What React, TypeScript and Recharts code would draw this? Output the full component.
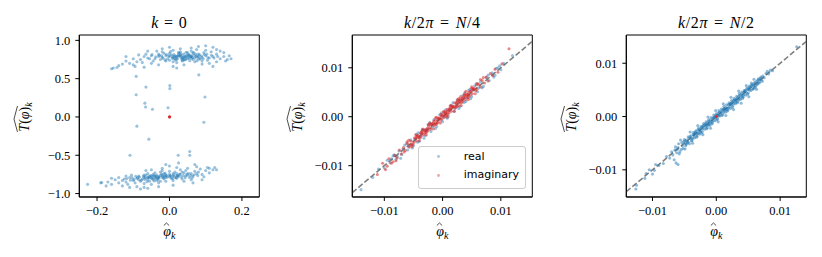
import React from "react";
import { ScatterChart, Scatter, XAxis, YAxis, ReferenceLine, ReferenceArea, Legend } from "recharts";

type Pair = [number, number];

const BLUE = "#1f77b4";
const RED = "#d62728";
const SERIF = '"Liberation Serif", "DejaVu Serif", serif';
const SANS = '"DejaVu Sans", sans-serif';

// ---- k = 0 : real part (two lobes) + a few stragglers, imaginary at origin
const k0Upper: Pair[] = [
  [0.02, 0.79], [0.03, 0.81], [0.01, 0.77], [0.04, 0.78], [-0.01, 0.8], [0.05, 0.76], [0.0, 0.83], [0.06, 0.8], [0.02, 0.75], [-0.02, 0.78],
  [0.07, 0.77], [0.03, 0.85], [0.01, 0.72], [0.08, 0.82], [-0.03, 0.82], [0.04, 0.74], [0.05, 0.84], [-0.04, 0.76], [0.09, 0.78], [0.0, 0.79],
  [0.025, 0.81], [0.035, 0.77], [0.015, 0.8], [0.045, 0.79], [-0.005, 0.76], [0.055, 0.81], [0.065, 0.75], [0.075, 0.8], [-0.015, 0.83], [0.085, 0.76],
  [0.1, 0.8], [0.11, 0.77], [0.12, 0.79], [0.095, 0.84], [0.105, 0.74], [-0.05, 0.8], [-0.06, 0.77], [-0.045, 0.73], [-0.035, 0.86], [-0.025, 0.75],
  [0.01, 0.87], [0.02, 0.71], [0.06, 0.86], [0.07, 0.72], [0.13, 0.82], [0.14, 0.76], [0.115, 0.85], [-0.07, 0.79], [-0.08, 0.75], [-0.065, 0.82],
  [0.03, 0.79], [0.04, 0.82], [0.05, 0.78], [0.0, 0.74], [0.015, 0.76], [0.025, 0.84], [0.045, 0.75], [0.055, 0.77], [0.065, 0.83], [0.035, 0.73],
  [-0.02, 0.85], [-0.01, 0.73], [0.08, 0.79], [0.09, 0.73], [0.1, 0.87], [0.075, 0.88], [-0.03, 0.79], [0.005, 0.81], [0.035, 0.8], [0.06, 0.79],
  [-0.09, 0.72], [-0.1, 0.76], [-0.11, 0.7], [-0.12, 0.73], [-0.13, 0.69], [-0.14, 0.67], [-0.155, 0.64], [-0.16, 0.63], [-0.145, 0.645], [-0.1, 0.68],
  [-0.085, 0.81], [-0.075, 0.71], [-0.095, 0.66], [0.15, 0.79], [0.16, 0.75], [0.17, 0.76], [0.165, 0.8], [0.155, 0.73], [0.14, 0.86], [0.13, 0.72],
  [0.12, 0.91], [0.08, 0.92], [0.06, 0.9], [0.03, 0.89], [0.0, 0.91], [-0.02, 0.89], [0.11, 0.7], [0.09, 0.69], [0.04, 0.68], [0.01, 0.66],
  [-0.03, 0.68], [-0.05, 0.7], [-0.06, 0.86], [0.15, 0.84], [0.12, 0.66], [-0.12, 0.79], [0.02, 0.64], [-0.07, 0.65], [0.1, 0.93], [0.13, 0.88],
  [0.018, 0.785], [0.028, 0.795], [0.038, 0.775], [0.048, 0.805], [0.008, 0.765], [-0.002, 0.795], [0.058, 0.785], [0.068, 0.805], [0.078, 0.775], [0.088, 0.795],
  [0.012, 0.815], [0.022, 0.765], [0.032, 0.825], [0.042, 0.755], [0.052, 0.815], [0.062, 0.765], [0.072, 0.825], [0.082, 0.755], [-0.008, 0.815], [-0.018, 0.765],
  [0.016, 0.745], [0.026, 0.835], [0.036, 0.745], [0.046, 0.845], [0.056, 0.735], [0.066, 0.845], [0.076, 0.735], [0.096, 0.815], [0.106, 0.775], [0.116, 0.805],
  [-0.028, 0.805], [-0.038, 0.785], [-0.048, 0.815], [-0.012, 0.745], [0.003, 0.855], [0.013, 0.785], [0.043, 0.79], [0.053, 0.8], [0.063, 0.78], [0.033, 0.76],
  [0.023, 0.8], [0.008, 0.79], [0.073, 0.79], [0.083, 0.81], [0.093, 0.76], [0.103, 0.82], [0.123, 0.77], [0.133, 0.79], [-0.055, 0.76], [-0.022, 0.8],
];

const k0Lower: Pair[] = [
  [-0.03, -0.78], [-0.02, -0.76], [-0.04, -0.8], [-0.01, -0.79], [-0.05, -0.77], [0.0, -0.75], [-0.06, -0.82], [0.01, -0.77], [-0.07, -0.79], [0.02, -0.74],
  [-0.035, -0.83], [-0.025, -0.72], [-0.045, -0.75], [-0.015, -0.81], [-0.055, -0.84], [0.005, -0.8], [-0.065, -0.76], [0.015, -0.72], [-0.075, -0.81], [0.025, -0.78],
  [-0.08, -0.84], [0.03, -0.75], [-0.09, -0.8], [0.04, -0.73], [-0.1, -0.83], [0.05, -0.76], [-0.11, -0.79], [0.06, -0.74], [-0.12, -0.85], [0.07, -0.71],
  [-0.03, -0.86], [-0.02, -0.7], [-0.04, -0.73], [-0.01, -0.84], [-0.05, -0.88], [0.0, -0.71], [-0.06, -0.74], [0.01, -0.83], [-0.07, -0.87], [0.02, -0.8],
  [-0.085, -0.77], [0.035, -0.81], [-0.095, -0.86], [0.045, -0.7], [-0.105, -0.76], [0.055, -0.79], [-0.115, -0.88], [0.065, -0.77], [-0.125, -0.81], [0.075, -0.74],
  [-0.03, -0.8], [-0.02, -0.79], [-0.04, -0.77], [-0.01, -0.76], [-0.05, -0.8], [0.0, -0.78], [-0.06, -0.79], [0.01, -0.74], [-0.07, -0.76], [0.02, -0.77],
  [-0.035, -0.76], [-0.015, -0.74], [-0.045, -0.82], [-0.025, -0.84], [0.035, -0.72], [-0.055, -0.79], [0.045, -0.77], [-0.085, -0.82], [0.03, -0.69], [-0.065, -0.7],
  [-0.13, -0.83], [-0.14, -0.86], [-0.15, -0.82], [-0.16, -0.88], [-0.17, -0.85], [-0.13, -0.9], [-0.12, -0.77], [-0.14, -0.79], [-0.11, -0.92], [-0.09, -0.91],
  [0.08, -0.72], [0.09, -0.75], [0.1, -0.7], [0.085, -0.68], [0.095, -0.78], [0.11, -0.73], [0.12, -0.69], [0.13, -0.69], [0.105, -0.66], [0.075, -0.65],
  [0.05, -0.67], [0.02, -0.66], [0.0, -0.64], [-0.02, -0.67], [-0.05, -0.69], [0.04, -0.84], [0.06, -0.82], [0.01, -0.89], [-0.03, -0.91], [-0.08, -0.94],
  [-0.07, -0.92], [-0.06, -0.93], [-0.19, -0.86], [-0.187, -0.855], [-0.226, -0.88], [-0.175, -0.9], [-0.16, -0.8], [0.065, -0.86], [0.09, -0.82], [0.07, -0.62],
  [0.025, -0.6], [-0.01, -0.62], [0.11, -0.67], [0.125, -0.66],
  [-0.028, -0.785], [-0.018, -0.775], [-0.038, -0.795], [-0.008, -0.765], [-0.048, -0.805], [0.002, -0.765], [-0.058, -0.795], [0.012, -0.755], [-0.068, -0.815], [0.022, -0.765],
  [-0.032, -0.815], [-0.022, -0.745], [-0.042, -0.835], [-0.012, -0.735], [-0.052, -0.765], [0.008, -0.805], [-0.062, -0.845], [0.018, -0.795], [-0.072, -0.775], [0.028, -0.745],
  [-0.078, -0.825], [0.038, -0.765], [-0.088, -0.795], [0.048, -0.745], [-0.098, -0.815], [0.058, -0.765], [-0.108, -0.825], [0.068, -0.755], [-0.118, -0.805], [0.078, -0.765],
  [-0.026, -0.765], [-0.016, -0.795], [-0.036, -0.775], [-0.006, -0.785], [-0.046, -0.785], [0.004, -0.775], [-0.056, -0.775], [0.014, -0.785], [-0.066, -0.795], [0.024, -0.765],
  [-0.033, -0.795], [-0.043, -0.765], [-0.013, -0.775], [0.033, -0.785], [-0.083, -0.785], [0.043, -0.795], [-0.093, -0.775], [0.053, -0.735], [-0.103, -0.795], [0.063, -0.795],
];

const k0Stray: Pair[] = [
  [0.001, 0.41], [0.001, 0.37], [-0.065, 0.39], [-0.092, 0.29], [-0.068, 0.18], [-0.066, 0.13], [-0.047, 0.1], [-0.004, 0.12],
  [0.098, 0.26], [-0.09, -0.12], [0.095, -0.07], [-0.057, -0.29], [-0.109, -0.5], [0.056, -0.45], [0.056, -0.5], [0.024, -0.5],
  [-0.092, 0.53], [0.081, 0.55],
];

const k0Imag: Pair[] = [[0, 0], [0.0005, 0.002]];

// ---- k/2pi = N/4
const n4Real: Pair[] = [
  [-0.014, -0.0149], [-0.012, -0.0124], [-0.011, -0.0107], [-0.01, -0.0105], [-0.0095, -0.0089], [-0.009, -0.0094], [-0.0085, -0.008], [-0.008, -0.0087], [-0.0075, -0.007], [-0.007, -0.0077],
  [-0.0065, -0.0058], [-0.006, -0.0068], [-0.0055, -0.0047], [-0.005, -0.0059], [-0.0045, -0.0036], [-0.004, -0.005], [-0.0035, -0.0026], [-0.003, -0.0039], [-0.0025, -0.0016], [-0.002, -0.003],
  [-0.0015, -0.0006], [-0.001, -0.002], [-0.0005, 0.0004], [0.0, -0.001], [0.0005, 0.0014], [0.001, 0.0001], [0.0015, 0.0024], [0.002, 0.0011], [0.0025, 0.0034], [0.003, 0.0021],
  [0.0035, 0.0044], [0.004, 0.0031], [0.0045, 0.0054], [0.005, 0.0041], [0.0055, 0.0063], [0.006, 0.0051], [0.0065, 0.0071], [0.007, 0.0062], [0.0075, 0.008], [0.008, 0.0074],
  [0.0085, 0.009], [0.009, 0.0085], [0.0095, 0.01], [0.01, 0.0096], [0.0105, 0.0109], [0.012, 0.0125],
  [-0.0072, -0.0085], [-0.0083, -0.0078], [-0.0062, -0.0055], [-0.0052, -0.0064], [-0.0042, -0.0033], [-0.0032, -0.0044], [-0.0022, -0.0012], [-0.0012, -0.0024], [-0.0002, 0.0008], [0.0008, -0.0003],
  [0.0018, 0.0029], [0.0028, 0.0017], [0.0038, 0.0049], [0.0048, 0.0037], [0.0058, 0.0068], [0.0068, 0.0059], [0.0078, 0.0085], [0.0088, 0.0081], [0.0098, 0.0104], [0.0092, 0.0099],
  [-0.0048, -0.0046], [-0.0038, -0.0041], [-0.0028, -0.0026], [-0.0018, -0.0021], [-0.0008, -0.0006], [0.0002, -0.0001], [0.0012, 0.0014], [0.0022, 0.0019], [0.0032, 0.0034], [0.0042, 0.0039],
  [0.0052, 0.0054], [0.0062, 0.0059], [-0.0058, -0.0061], [-0.0068, -0.0066], [-0.0078, -0.0081], [-0.0088, -0.0086], [-0.0043, -0.0052], [-0.0033, -0.0027], [0.0037, 0.0029], [0.0047, 0.0056],
];

const n4Imag: Pair[] = [
  [-0.0112, -0.0118], [-0.0103, -0.0095], [-0.0098, -0.0108], [-0.0092, -0.0086], [-0.0088, -0.0095], [-0.0082, -0.0079], [-0.0078, -0.0084], [-0.0074, -0.0068], [-0.0071, -0.0076], [-0.0067, -0.0063],
  [-0.0064, -0.0069], [-0.006, -0.0055], [-0.0057, -0.0062], [-0.0054, -0.005], [-0.0051, -0.0056], [-0.0048, -0.0043], [-0.0045, -0.0049], [-0.0042, -0.0038], [-0.0039, -0.0044], [-0.0036, -0.0031],
  [-0.0033, -0.0037], [-0.003, -0.0026], [-0.0027, -0.0031], [-0.0024, -0.0019], [-0.0021, -0.0025], [-0.0018, -0.0014], [-0.0015, -0.0019], [-0.0012, -0.0007], [-0.0009, -0.0013], [-0.0006, -0.0002],
  [-0.0003, -0.0007], [0.0, 0.0004], [0.0003, -0.0001], [0.0006, 0.001], [0.0009, 0.0005], [0.0012, 0.0017], [0.0015, 0.0011], [0.0018, 0.0022], [0.0021, 0.0017], [0.0024, 0.0029],
  [0.0027, 0.0023], [0.003, 0.0035], [0.0033, 0.0029], [0.0036, 0.004], [0.0039, 0.0035], [0.0042, 0.0046], [0.0045, 0.0041], [0.0048, 0.0052], [0.0051, 0.0047], [0.0054, 0.0058],
  [-0.0058, -0.0048], [-0.0052, -0.0061], [-0.0046, -0.0037], [-0.004, -0.0049], [-0.0034, -0.0025], [-0.0028, -0.0037], [-0.0022, -0.0013], [-0.0016, -0.0025], [-0.001, -0.0001], [-0.0004, -0.0013],
  [0.0002, 0.0011], [0.0008, -0.0001], [0.0014, 0.0023], [0.002, 0.0011], [0.0026, 0.0035], [0.0032, 0.0023], [0.0038, 0.0047], [0.0044, 0.0035], [0.005, 0.0058], [0.0056, 0.0047],
  [-0.0049, -0.0052], [-0.0043, -0.0041], [-0.0037, -0.004], [-0.0031, -0.0028], [-0.0025, -0.0028], [-0.0019, -0.0016], [-0.0013, -0.0016], [-0.0007, -0.0004], [-0.0001, -0.0004], [0.0005, 0.0008],
  [0.0011, 0.0008], [0.0017, 0.002], [0.0023, 0.002], [0.0029, 0.0032], [0.0035, 0.0032], [0.0041, 0.0044], [0.0047, 0.0044], [0.0053, 0.0056], [0.0059, 0.0056], [0.0062, 0.0066],
  [0.006, 0.0068], [0.0065, 0.0061], [0.0068, 0.0074], [0.0072, 0.0069], [0.0075, 0.0081], [0.0078, 0.0073], [0.0082, 0.0088], [0.0086, 0.0084], [0.009, 0.0097], [0.0095, 0.0091],
  [0.0102, 0.0108], [0.0114, 0.0139], [-0.0085, -0.0092], [-0.0095, -0.0101], [-0.008, -0.009], [-0.0066, -0.0072], [-0.0061, -0.0051], [-0.0055, -0.0058], [-0.0035, -0.0029], [-0.0015, -0.0009],
  [0.0005, 0.0002], [0.0025, 0.0031], [0.0045, 0.005], [0.0065, 0.0076], [0.007, 0.008], [0.0058, 0.0065],
  [-0.0046, -0.0044], [-0.0041, -0.0043], [-0.0036, -0.0034], [-0.0031, -0.0033], [-0.0026, -0.0023], [-0.0021, -0.0023], [-0.0016, -0.0013], [-0.0011, -0.0013], [-0.0006, -0.0004], [-0.0001, 0.0001],
  [0.0004, 0.0006], [0.0009, 0.0011], [0.0014, 0.0016], [0.0019, 0.0021], [0.0024, 0.0026], [0.0029, 0.0031], [0.0034, 0.0036], [0.0039, 0.0041], [0.0044, 0.0046], [0.0049, 0.0051],
  [-0.0038, -0.0033], [-0.0029, -0.0032], [-0.002, -0.0016], [-0.0011, -0.0015], [-0.0002, 0.0002], [0.0007, 0.0003], [0.0016, 0.002], [0.0025, 0.0021], [0.0034, 0.0038], [0.0043, 0.0039],
  [0.0052, 0.0056], [0.0057, 0.0053], [-0.0053, -0.0057], [-0.0044, -0.004], [-0.0027, -0.0027], [-0.0008, -0.001], [0.0011, 0.0014], [0.003, 0.0028], [0.0037, 0.0044], [0.0021, 0.0028],
  [0.0013, 0.0022], [0.0002, 0.0009], [-0.0012, -0.0002], [-0.0024, -0.0016], [0.004, 0.0052], [0.0031, 0.0041], [0.005, 0.0061], [-0.0003, 0.0005], [0.0008, 0.0015], [0.0028, 0.0037],
];

// ---- k/2pi = N/2
const n2Real: Pair[] = [
  [-0.006, -0.0058], [-0.0057, -0.0066], [-0.0054, -0.0049], [-0.0052, -0.006], [-0.005, -0.0043], [-0.0048, -0.0055], [-0.0046, -0.0047], [-0.0044, -0.0038], [-0.0042, -0.0051], [-0.004, -0.0036],
  [-0.0038, -0.0045], [-0.0036, -0.003], [-0.0034, -0.004], [-0.0032, -0.0027], [-0.003, -0.0037], [-0.0028, -0.0022], [-0.0026, -0.0033], [-0.0024, -0.0019], [-0.0022, -0.0028], [-0.002, -0.0013],
  [-0.0018, -0.0024], [-0.0016, -0.001], [-0.0014, -0.0021], [-0.0012, -0.0006], [-0.001, -0.0017], [-0.0008, -0.0002], [-0.0006, -0.0012], [-0.0004, 0.0003], [-0.0002, -0.0008], [0.0, 0.0005],
  [0.0002, -0.0004], [0.0004, 0.0011], [0.0006, 0.0001], [0.0008, 0.0014], [0.001, 0.0004], [0.0012, 0.0019], [0.0014, 0.0008], [0.0016, 0.0022], [0.0018, 0.0012], [0.002, 0.0026],
  [0.0022, 0.0015], [0.0024, 0.003], [0.0026, 0.002], [0.0028, 0.0034], [0.003, 0.0024], [0.0032, 0.0038], [0.0034, 0.0028], [0.0036, 0.0043], [0.0038, 0.0032], [0.004, 0.0046],
  [0.0042, 0.0036], [0.0044, 0.0049], [0.0046, 0.004], [0.0048, 0.0053], [0.005, 0.0044], [0.0052, 0.0057], [0.0054, 0.0049], [0.0056, 0.006], [0.0058, 0.0052], [0.006, 0.0064],
  [-0.0059, -0.0051], [-0.0055, -0.0062], [-0.0051, -0.0047], [-0.0047, -0.0052], [-0.0043, -0.0041], [-0.0039, -0.0046], [-0.0035, -0.0033], [-0.0031, -0.0039], [-0.0027, -0.0025], [-0.0023, -0.0031],
  [-0.0019, -0.0016], [-0.0015, -0.0023], [-0.0011, -0.0009], [-0.0007, -0.0014], [-0.0003, -0.0001], [0.0001, -0.0006], [0.0005, 0.0008], [0.0009, 0.0002], [0.0013, 0.0015], [0.0017, 0.001],
  [0.0021, 0.0023], [0.0025, 0.0017], [0.0029, 0.0031], [0.0033, 0.0026], [0.0037, 0.004], [0.0041, 0.0034], [0.0045, 0.0047], [0.0049, 0.0042], [0.0053, 0.0055], [0.0057, 0.0051],
  [-0.0056, -0.0044], [-0.0049, -0.0061], [-0.0041, -0.0029], [-0.0037, -0.005], [-0.0029, -0.0017], [-0.0021, -0.0034], [-0.0013, -0.0001], [-0.0009, -0.0022], [-0.0001, 0.0011], [0.0003, -0.001],
  [0.0011, 0.0024], [0.0015, 0.0002], [0.0023, 0.0036], [0.0027, 0.0013], [0.0035, 0.0048], [0.0039, 0.0025], [0.0047, 0.0058], [0.0051, 0.0037], [0.0059, 0.007], [0.0063, 0.0051],
  [-0.0033, -0.0029], [-0.0025, -0.0027], [-0.0017, -0.0014], [-0.0009, -0.0011], [-0.0001, 0.0002], [0.0007, 0.0005], [0.0015, 0.0017], [0.0023, 0.0021], [0.0031, 0.0033], [0.0039, 0.0037],
  [-0.0029, -0.0032], [-0.0021, -0.0018], [-0.0013, -0.0016], [-0.0005, -0.0003], [0.0003, 0.0001], [0.0011, 0.0013], [0.0019, 0.0016], [0.0027, 0.0029], [0.0035, 0.0032], [0.0043, 0.0045],
  [-0.0065, -0.0063], [-0.0068, -0.0072], [-0.007, -0.0066], [-0.0073, -0.0078], [-0.0062, -0.0068], [-0.0064, -0.0057], [-0.0058, -0.007], [-0.0063, -0.0087], [-0.006, -0.009], [-0.0066, -0.0081],
  [-0.0078, -0.0075], [-0.0083, -0.0088], [-0.009, -0.0092], [-0.0097, -0.0101], [-0.0105, -0.01], [-0.011, -0.0107], [-0.0112, -0.0116], [-0.0125, -0.0129], [-0.0095, -0.009], [-0.01, -0.0108],
  [0.0062, 0.0058], [0.0065, 0.0068], [0.0067, 0.0063], [0.0069, 0.0072], [0.0071, 0.0069], [0.0073, 0.0076], [0.007, 0.0074], [0.0066, 0.0071], [0.0075, 0.0073], [0.0078, 0.0081],
  [0.008, 0.0085], [0.0082, 0.008], [0.0085, 0.0087], [0.0088, 0.0086], [0.0064, 0.006], [0.0061, 0.0055], [0.0068, 0.0065], [0.0072, 0.0066], [0.0055, 0.0063], [0.0059, 0.0054],
  [0.0126, 0.0131], [-0.0126, -0.0136],
  [-0.0049, -0.0046], [-0.0045, -0.0049], [-0.0041, -0.0038], [-0.0037, -0.0041], [-0.0033, -0.0031], [-0.0029, -0.0026], [-0.0025, -0.0029], [-0.0021, -0.0023], [-0.0017, -0.0019], [-0.0013, -0.001],
  [-0.0009, -0.0006], [-0.0005, -0.0008], [-0.0001, -0.0003], [0.0003, 0.0006], [0.0007, 0.0009], [0.0011, 0.0008], [0.0015, 0.0013], [0.0019, 0.0022], [0.0023, 0.0025], [0.0027, 0.0024],
  [0.0031, 0.0029], [0.0035, 0.0038], [0.0039, 0.0042], [0.0043, 0.0041], [0.0047, 0.0045], [0.0051, 0.0054], [0.0055, 0.0058], [0.0059, 0.0057], [0.0063, 0.0066], [0.0067, 0.0069],
  [-0.0053, -0.0055], [-0.0047, -0.0044], [-0.0039, -0.0041], [-0.0031, -0.0034], [-0.0023, -0.002], [-0.0015, -0.0017], [-0.0007, -0.0009], [0.0001, 0.0003], [0.0009, 0.0011], [0.0017, 0.0014],
  [0.0025, 0.0027], [0.0033, 0.0035], [0.0041, 0.0038], [0.0049, 0.0051], [0.0057, 0.0059], [0.0065, 0.0062], [-0.0061, -0.0062], [-0.0035, -0.0036], [-0.0011, -0.0013], [0.0013, 0.0012],
  [-0.0044, -0.0048], [-0.0036, -0.0034], [-0.0028, -0.0031], [-0.002, -0.0018], [-0.0012, -0.0015], [-0.0004, -0.0002], [0.0004, 0.0002], [0.0012, 0.0015], [0.002, 0.0018], [0.0028, 0.0031],
  [0.0036, 0.0034], [0.0044, 0.0047], [0.0052, 0.005], [0.006, 0.0062], [0.003, 0.0027], [0.0022, 0.0024], [-0.0016, -0.0013], [-0.0026, -0.0024], [-0.0048, -0.0051], [0.0046, 0.0049],
];

const n2Imag: Pair[] = [[0, 0]];

// axis setup
const k0XTicks = [-0.2, 0, 0.2];
const k0YTicks = [-1, -0.5, 0, 0.5, 1];
const smallTicks = [-0.01, 0, 0.01];
const legendOrder = ["real", "imaginary"];

const toPoints = (arr: Pair[]) => arr.map(([x, y]) => ({ x, y }));
const fmt = (digits: number) => (v: number) => v.toFixed(digits).replace("-", "\u2212");

const PLOT_TOP = 35;
const PLOT_H = 162;
const PLOT_W = 180;
const AXIS_W = 79.3;
const TICK_FS = 12.5;

const dot = (color: string, opacity: number, r = 1.55) => (p: any) =>
  <circle cx={p.cx} cy={p.cy} r={r} fill={color} fillOpacity={opacity} />;

const mathItalic = { fontStyle: "italic" as const };

const XTick = (digits: number) => (p: any) => (
  <text x={p.x} y={p.y + 10} textAnchor="middle" fontFamily={SERIF} fontSize={TICK_FS} fill="#000">
    {fmt(digits)(p.payload.value)}
  </text>
);
const YTick = (digits: number) => (p: any) => (
  <text x={p.x} y={p.y + 4.3} textAnchor="end" fontFamily={SERIF} fontSize={TICK_FS} fill="#000">
    {fmt(digits)(p.payload.value)}
  </text>
);

function YLabel(props: any) {
  const vb = props.viewBox ?? { x: 0, y: PLOT_TOP, width: AXIS_W, height: PLOT_H };
  const cx = vb.x + 29;
  const cy = vb.y + vb.height / 2;
  return (
    <g transform={`translate(${cx},${cy}) rotate(-90)`}>
      <text x={-1} y={0} textAnchor="middle" fontFamily={SERIF} fontSize={14} fill="#000">
        <tspan {...mathItalic}>T</tspan>
        <tspan>(</tspan>
        <tspan {...mathItalic}>φ</tspan>
        <tspan>)</tspan>
        <tspan {...mathItalic} fontSize={10} dy={3}>k</tspan>
      </text>
      <path d="M -16 -11.5 L -3 -15 L 10 -11.5" fill="none" stroke="#000" strokeWidth={0.7} />
    </g>
  );
}

function XLabel(props: any) {
  const vb = props.viewBox ?? { x: AXIS_W, y: PLOT_TOP + PLOT_H, width: PLOT_W, height: 60 };
  const cx = vb.x + vb.width / 2;
  const base = vb.y + 39;
  return (
    <g>
      <text x={cx} y={base} textAnchor="middle" fontFamily={SERIF} fontSize={14} fill="#000">
        <tspan {...mathItalic}>φ</tspan>
        <tspan {...mathItalic} fontSize={10} dy={3}>k</tspan>
      </text>
      <path d={`M ${cx - 5.5} ${base - 10.5} L ${cx - 2.8} ${base - 13} L ${cx - 0.2} ${base - 10.5}`} fill="none" stroke="#000" strokeWidth={0.7} />
    </g>
  );
}

const titleContent = (parts: React.ReactNode) => (props: any) => {
  const vb = props.viewBox ?? { x: AXIS_W, y: PLOT_TOP, width: PLOT_W, height: PLOT_H };
  return (
    <text x={vb.x + vb.width / 2} y={vb.y - 6.5} textAnchor="middle" fontFamily={SERIF} fontSize={16} fill="#000" letterSpacing={0.6}>
      {parts}
    </text>
  );
};

const titleK0 = (
  <>
    <tspan {...mathItalic}>k</tspan>
    <tspan dx={5}>=</tspan>
    <tspan dx={5}>0</tspan>
  </>
);
const titleN4 = (
  <>
    <tspan {...mathItalic}>k</tspan>
    <tspan>/2</tspan>
    <tspan {...mathItalic}>π</tspan>
    <tspan dx={6}>=</tspan>
    <tspan dx={6} {...mathItalic}>N</tspan>
    <tspan>/4</tspan>
  </>
);
const titleN2 = (
  <>
    <tspan {...mathItalic}>k</tspan>
    <tspan>/2</tspan>
    <tspan {...mathItalic}>π</tspan>
    <tspan dx={6}>=</tspan>
    <tspan dx={6} {...mathItalic}>N</tspan>
    <tspan>/2</tspan>
  </>
);

function LegendBox(props: any) {
  const items = [...(props.payload ?? [])].sort(
    (a: any, b: any) => legendOrder.indexOf(a.value) - legendOrder.indexOf(b.value)
  );
  return (
    <div style={{
      position: "relative", boxSizing: "border-box", width: 108, height: 43,
      border: "1px solid #cccccc", borderRadius: 3, background: "rgba(255,255,255,0.8)",
      fontFamily: SANS, fontSize: 11, color: "#000",
    }}>
      {items.map((it: any, i: number) => (
        <div key={i} style={{ position: "absolute", left: 0, top: 10 + i * 18.6 - 8, height: 16, width: "100%" }}>
          <span style={{ position: "absolute", left: 18.2, top: 6.6, width: 2.8, height: 2.8, borderRadius: "50%", background: it.color, opacity: 0.4 }} />
          <span style={{ position: "absolute", left: 45, top: 0, lineHeight: "16px" }}>{it.value}</span>
        </div>
      ))}
    </div>
  );
}

type Series = { name: string; data: Pair[]; color: string; opacity: number; r?: number };

function Panel(props: {
  left: number; xDomain: [number, number]; yDomain: [number, number];
  xTicks: number[]; yTicks: number[]; digits: number; title: React.ReactNode;
  series: Series[]; diagonal?: boolean; legend?: boolean;
}) {
  const { left, xDomain, yDomain, xTicks, yTicks, digits, title, series, diagonal, legend } = props;
  return (
    <div style={{ position: "absolute", left, top: 0 }}>
      <ScatterChart width={AXIS_W + PLOT_W + 10} height={257} margin={{ top: PLOT_TOP, right: 10, bottom: 0, left: 0 }}>
        <XAxis type="number" dataKey="x" domain={xDomain} ticks={xTicks} allowDataOverflow interval={0}
          height={257 - PLOT_TOP - PLOT_H} tickSize={4} tickMargin={4} stroke="#000" tick={XTick(digits)}
          label={{ content: XLabel }} />
        <YAxis type="number" dataKey="y" domain={yDomain} ticks={yTicks} allowDataOverflow interval={0}
          width={AXIS_W} tickSize={4} tickMargin={5} stroke="#000" tick={YTick(digits)}
          label={{ content: YLabel }} />
        {series.map((s) => (
          <Scatter key={s.name} name={s.name} data={toPoints(s.data)} fill={s.color}
            shape={dot(s.color, s.opacity, s.r)} isAnimationActive={false} />
        ))}
        {diagonal && (
          <ReferenceLine segment={[{ x: xDomain[0], y: xDomain[0] }, { x: xDomain[1], y: xDomain[1] }]}
            stroke="#808080" strokeWidth={1.6} strokeDasharray="5.5 2.4" ifOverflow="hidden" />
        )}
        <ReferenceArea x1={xDomain[0]} x2={xDomain[1]} y1={yDomain[0]} y2={yDomain[1]}
          fill="none" fillOpacity={0} stroke="#000" strokeWidth={1} ifOverflow="visible"
          label={{ content: titleContent(title) }} />
        {legend && (
          <Legend layout="vertical" align="center" verticalAlign="middle" content={LegendBox}
            wrapperStyle={{ position: "absolute", left: 144.3, top: 145.7, width: 108, height: 43 }} />
        )}
      </ScatterChart>
    </div>
  );
}

export default function App() {
  return (
    <div style={{ position: "absolute", left: 0, top: 0, width: 822, height: 257, background: "#fff" }}>
      <Panel left={0} xDomain={[-0.249, 0.248]} yDomain={[-1.045, 1.07]} xTicks={k0XTicks} yTicks={k0YTicks}
        digits={1} title={titleK0}
        series={[
          { name: "real", data: [...k0Upper, ...k0Lower, ...k0Stray], color: BLUE, opacity: 0.45 },
          { name: "imaginary", data: k0Imag, color: RED, opacity: 0.85 },
        ]} />
      <Panel left={273.4} xDomain={[-0.0155, 0.0154]} yDomain={[-0.0164, 0.0167]} xTicks={smallTicks} yTicks={smallTicks}
        digits={2} title={titleN4} diagonal legend
        series={[
          { name: "real", data: n4Real, color: BLUE, opacity: 0.45 },
          { name: "imaginary", data: n4Imag, color: RED, opacity: 0.55 },
        ]} />
      <Panel left={547.4} xDomain={[-0.0141, 0.0141]} yDomain={[-0.0151, 0.0153]} xTicks={smallTicks} yTicks={smallTicks}
        digits={2} title={titleN2} diagonal
        series={[
          { name: "real", data: n2Real, color: BLUE, opacity: 0.5 },
          { name: "imaginary", data: n2Imag, color: RED, opacity: 0.9 },
        ]} />
    </div>
  );
}
